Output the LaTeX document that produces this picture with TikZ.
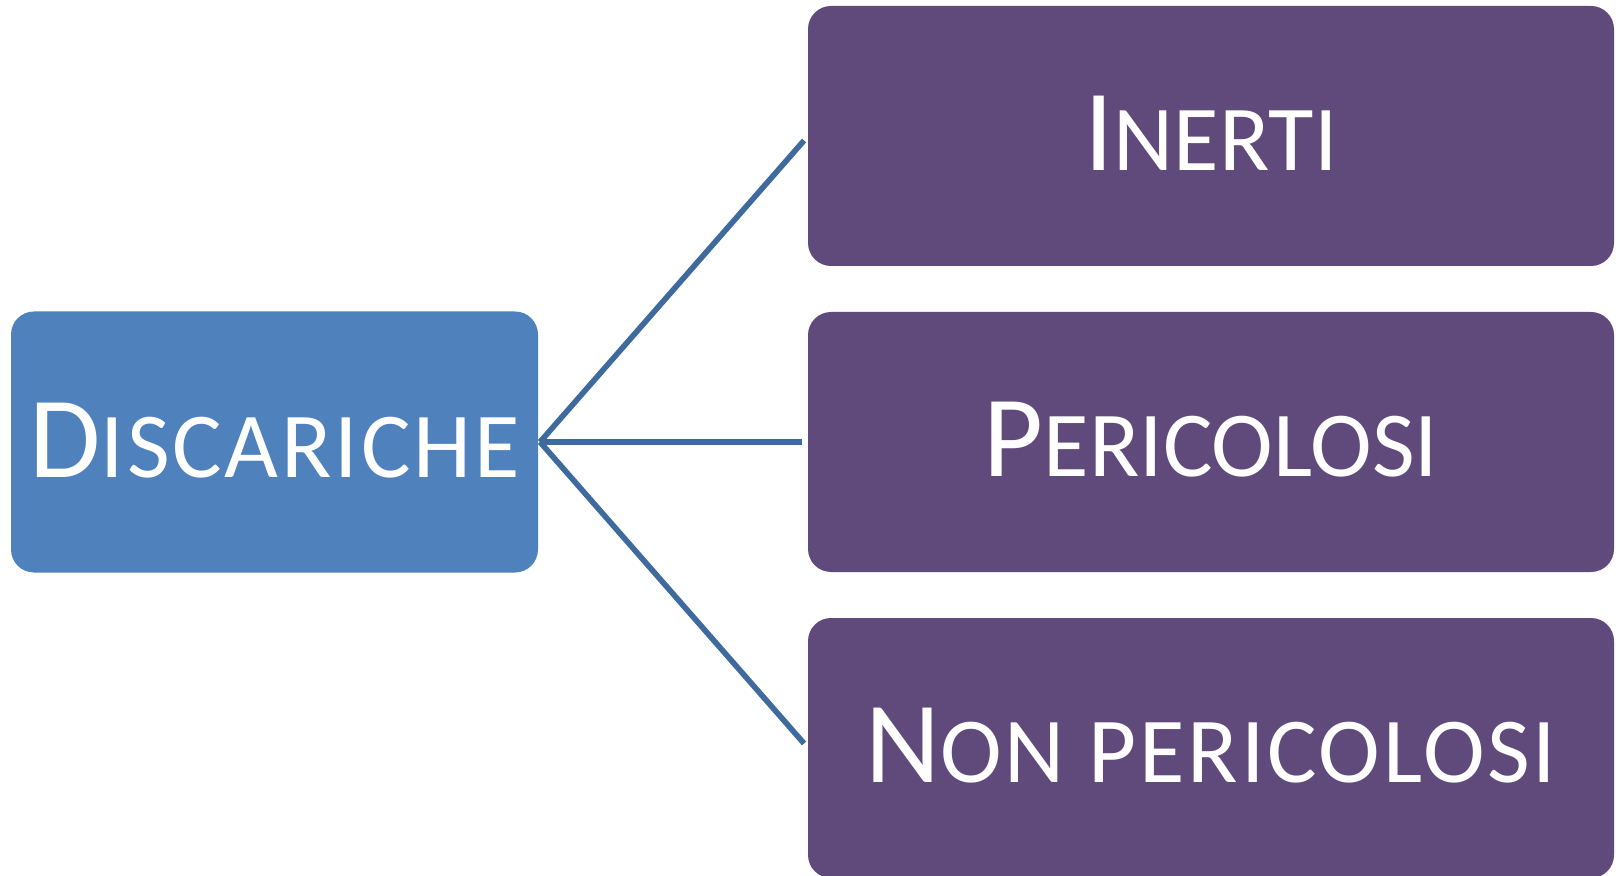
\documentclass[tikz,border=0pt]{standalone}
\usepackage{fontspec}
\setmainfont{Carlito}
\definecolor{rootfill}{HTML}{4F81BD}
\definecolor{leaffill}{HTML}{604A7B}
\definecolor{linkcol}{RGB}{62,106,158}
% small capitals built from a large initial and smaller capitals
\newcommand{\initialcap}[1]{{\fontsize{58pt}{60pt}\selectfont #1}}
\newcommand{\restcaps}[1]{{\fontsize{46.5pt}{48pt}\selectfont #1}}
\newcommand{\widecaps}[1]{{\fontsize{46.5pt}{48pt}\selectfont\addfontfeature{LetterSpace=3}#1}}
\tikzset{
  rootbox/.style={fill=rootfill, rounded corners=11.5pt, inner sep=0pt, outer sep=0pt,
    minimum width=263.5pt, minimum height=130.5pt, text=white, text depth=2pt},
  leafbox/.style={fill=leaffill, rounded corners=11.5pt, inner sep=0pt, outer sep=0pt,
    minimum width=403pt, minimum height=130pt, text=white, text depth=3pt},
  link/.style={draw=linkcol, line width=2.8pt, shorten >=3pt, line cap=butt}
}
\begin{document}
\begin{tikzpicture}[x=0.5pt,y=-0.5pt]
  \useasboundingbox (0,0) rectangle (1616,876);
  \node[rootbox] (root) at (274.5,442) {\initialcap{D}\widecaps{ISCARICHE}};
  \node[leafbox] (inerti) at (1211,136) {\initialcap{I}\restcaps{NERTI}};
  \node[leafbox] (peric) at (1211,442) {\initialcap{P}\restcaps{ERICOLOSI}};
  \node[leafbox] (nonperic) at (1211,748) {\initialcap{N}\widecaps{ON PERICOLOSI}};
  \coordinate (hub) at ([xshift=1pt]root.east);
  \draw[link] (hub) -- (inerti.west);
  \draw[link] (hub) -- (peric.west);
  \draw[link] (hub) -- (nonperic.west);
\end{tikzpicture}
\end{document}
